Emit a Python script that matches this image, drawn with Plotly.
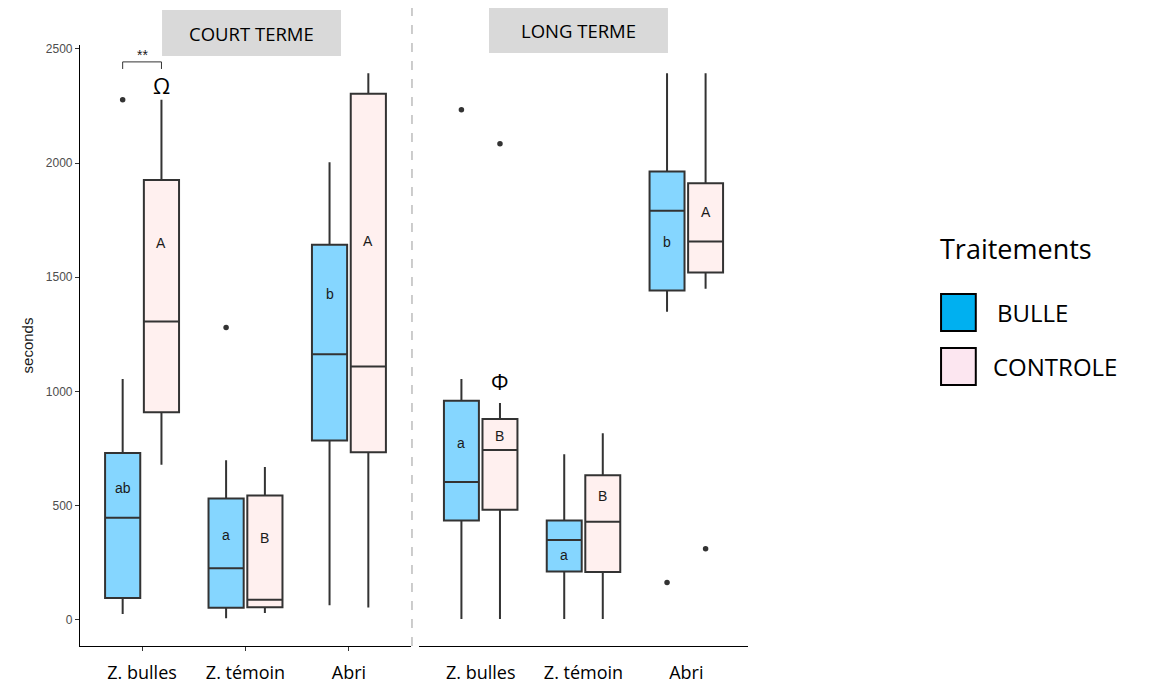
import plotly.graph_objects as go

# ---------------- data ----------------
categories = ["Z. bulles", "Z. témoin", "Abri"]
groups = ["BULLE", "CONTROLE"]
panels = ["COURT TERME", "LONG TERME"]

court_bulle_q1 = [95, 52, 785]
court_bulle_med = [447, 225, 1163]
court_bulle_q3 = [730, 531, 1642]
court_bulle_low = [25, 7, 63]
court_bulle_high = [1054, 698, 2004]

court_ctrl_q1 = [909, 55, 734]
court_ctrl_med = [1306, 88, 1109]
court_ctrl_q3 = [1926, 544, 2303]
court_ctrl_low = [679, 29, 54]
court_ctrl_high = [2277, 669, 2393]

long_bulle_q1 = [435, 211, 1442]
long_bulle_med = [603, 349, 1791]
long_bulle_q3 = [959, 435, 1963]
long_bulle_low = [3, 3, 1349]
long_bulle_high = [1054, 725, 2393]

long_ctrl_q1 = [482, 209, 1521]
long_ctrl_med = [743, 429, 1656]
long_ctrl_q3 = [879, 633, 1912]
long_ctrl_low = [3, 3, 1449]
long_ctrl_high = [949, 817, 2393]

court_out_cat = ["Z. bulles", "Z. témoin"]
court_out_grp = ["BULLE", "BULLE"]
court_out_val = [2277, 1280]

long_out_cat = ["Z. bulles", "Z. bulles", "Abri", "Abri"]
long_out_grp = ["BULLE", "CONTROLE", "BULLE", "CONTROLE"]
long_out_val = [2233, 2084, 163, 311]

court_let_bulle = ["ab", "a", "b"]
court_let_bulle_y = [578, 372, 1427]
court_let_ctrl = ["A", "B", "A"]
court_let_ctrl_y = [1651, 359, 1659]
long_let_bulle = ["a", "a", "b"]
long_let_bulle_y = [775, 285, 1656]
long_let_ctrl = ["B", "B", "A"]
long_let_ctrl_y = [806, 543, 1785]

y_ticks = [0, 500, 1000, 1500, 2000, 2500]

# ---------------- style ----------------
fill = {"BULLE": "#85D6FF", "CONTROLE": "#FFF0EF"}
legend_fill = {"BULLE": "#00B0F0", "CONTROLE": "#FCE6F0"}
dodge = {"BULLE": -0.1875, "CONTROLE": 0.1875}
BOXW = 0.34
LINE = "#333333"
CAL = "Open Sans"

def pos(cat, grp):
    return categories.index(cat) + 1 + dodge[grp]

fig = go.Figure()

panel_data = [
    ("x", {"BULLE": (court_bulle_q1, court_bulle_med, court_bulle_q3, court_bulle_low, court_bulle_high),
           "CONTROLE": (court_ctrl_q1, court_ctrl_med, court_ctrl_q3, court_ctrl_low, court_ctrl_high)}),
    ("x2", {"BULLE": (long_bulle_q1, long_bulle_med, long_bulle_q3, long_bulle_low, long_bulle_high),
            "CONTROLE": (long_ctrl_q1, long_ctrl_med, long_ctrl_q3, long_ctrl_low, long_ctrl_high)}),
]

for xa, d in panel_data:
    for g in groups:
        q1, med, q3, lo, hi = d[g]
        fig.add_trace(go.Box(
            x=[pos(c, g) for c in categories], q1=q1, median=med, q3=q3,
            lowerfence=lo, upperfence=hi, width=BOXW, whiskerwidth=0,
            boxpoints=False, fillcolor=fill[g], line=dict(color=LINE, width=2),
            xaxis=xa, yaxis="y", showlegend=False, name=g))

for xa, cats, grps, vals in [("x", court_out_cat, court_out_grp, court_out_val),
                             ("x2", long_out_cat, long_out_grp, long_out_val)]:
    fig.add_trace(go.Scatter(
        x=[pos(c, g) for c, g in zip(cats, grps)], y=vals, mode="markers",
        marker=dict(color=LINE, size=5.5), xaxis=xa, yaxis="y", showlegend=False))

# letters
for xa, lets, ys, g in [("x", court_let_bulle, court_let_bulle_y, "BULLE"),
                        ("x", court_let_ctrl, court_let_ctrl_y, "CONTROLE"),
                        ("x2", long_let_bulle, long_let_bulle_y, "BULLE"),
                        ("x2", long_let_ctrl, long_let_ctrl_y, "CONTROLE")]:
    for c, t, yv in zip(categories, lets, ys):
        fig.add_annotation(x=pos(c, g), y=yv, xref=xa, yref="y", text=t,
                           xanchor="center", yanchor="middle",
                           showarrow=False, font=dict(family="Liberation Sans", size=14, color="#1a1a1a"))

# significance bracket
x_a = pos("Z. bulles", "BULLE")
x_b = pos("Z. bulles", "CONTROLE")
fig.add_shape(type="path", xref="x", yref="y",
              path=f"M {x_a} 2412 L {x_a} 2443 L {x_b} 2443 L {x_b} 2412",
              line=dict(color=LINE, width=1))
fig.add_annotation(x=(x_a + x_b) / 2, y=2474, xref="x", yref="y", text="**",
                   xanchor="center", yanchor="middle",
                   showarrow=False, font=dict(family="Liberation Sans", size=14, color="#1a1a1a"))
fig.add_annotation(x=x_b, y=2342, xref="x", yref="y", text="Ω", xanchor="center", yanchor="middle",
                   showarrow=False, font=dict(family=CAL, size=22, color="black"))
fig.add_annotation(x=pos("Z. bulles", "CONTROLE"), y=1046, xref="x2", yref="y", text="Φ",
                   xanchor="center", yanchor="middle",
                   showarrow=False, font=dict(family=CAL, size=22, color="black"))

# panel strips
strip = [(0.1228, 0.3907, 0.9817, 1.0582, panels[0]), (0.6123, 0.8802, 0.9867, 1.0632, panels[1])]
for x0, x1, y0, y1, t in strip:
    fig.add_shape(type="rect", xref="paper", yref="paper", x0=x0, x1=x1, y0=y0, y1=y1,
                  fillcolor="#D9D9D9", line=dict(width=0), layer="above")
    fig.add_annotation(x=(x0 + x1) / 2, y=(y0 + y1) / 2, xref="paper", yref="paper", text=t,
                       xanchor="center", yanchor="middle",
                       showarrow=False, font=dict(family=CAL, size=18.5, color="black"))

# dashed separator
fig.add_shape(type="line", xref="paper", yref="paper", x0=0.497, x1=0.497, y0=0, y1=1.075,
              line=dict(color="#9A9A9A", width=1, dash="dash"))

# legend
fig.add_annotation(x=1.284, y=(646 - 248) / 601, xref="paper", yref="paper", text="Traitements",
                   showarrow=False, xanchor="left", yanchor="middle",
                   font=dict(family=CAL, size=27, color="black"))
leg_rows = [(0.5857, 0.5241), (0.4958, 0.4343)]
for g, (ya, yb) in zip(groups, leg_rows):
    fig.add_shape(type="rect", xref="paper", yref="paper", x0=1.289, x1=1.341, y0=yb, y1=ya,
                  fillcolor=legend_fill[g], line=dict(color="black", width=2))
    fig.add_annotation(x=1.37 if g == "BULLE" else 1.364, y=(ya + yb) / 2, xref="paper", yref="paper",
                       text=g, showarrow=False, xanchor="left", yanchor="middle",
                       font=dict(family=CAL, size=24, color="black"))

xcommon = dict(range=[0.4, 3.6], tickvals=[1, 2, 3], ticktext=categories, showline=True,
               linecolor="black", linewidth=1.2, showgrid=False, zeroline=False,
               tickfont=dict(family=CAL, size=18, color="black"), anchor="y",
               ticklabelstandoff=6, automargin=False, ticks="outside", ticklen=4)

fig.update_layout(
    width=1150, height=684, plot_bgcolor="white", paper_bgcolor="white",
    margin=dict(l=72, r=410, t=37, b=46),
    boxmode="overlay",
    xaxis=dict(domain=[0, 0.4955], tickcolor=LINE, **xcommon),
    xaxis2=dict(domain=[0.5075, 1], tickcolor="rgba(0,0,0,0)", **xcommon),
    yaxis=dict(range=[-115, 2517], tickvals=y_ticks, showline=True, linecolor="black", linewidth=1.2,
               ticks="outside", ticklen=4, tickcolor=LINE, showgrid=False, zeroline=False,
               tickfont=dict(family="Liberation Sans", size=12, color="#4D4D4D"),
               title=dict(text="seconds", font=dict(family="Liberation Sans", size=15, color="#1a1a1a"),
                          standoff=8),
               anchor="x", automargin=False),
)

fig.write_html("out.html")
